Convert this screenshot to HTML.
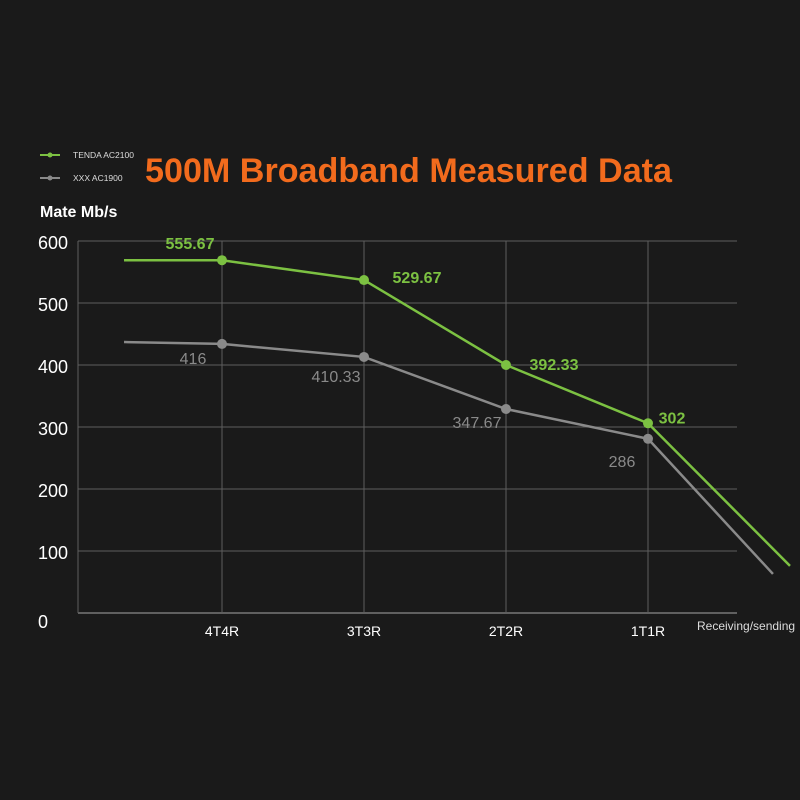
<!DOCTYPE html>
<html><head><meta charset="utf-8"><style>
html,body{margin:0;padding:0;background:#1a1a1a;}
svg{display:block;font-family:"Liberation Sans",sans-serif;}
</style></head><body>
<svg id="chart" width="800" height="800" viewBox="0 0 800 800">
<rect width="800" height="800" fill="#1a1a1a"/>
<g>
<line x1="40" y1="155" x2="60" y2="155" stroke="#7cc142" stroke-width="2"/>
<circle cx="50" cy="155" r="2.5" fill="#7cc142"/>
<text x="73" y="158" fill="#ddd" font-size="8.5">TENDA AC2100</text>
<line x1="40" y1="178" x2="60" y2="178" stroke="#8a8a8a" stroke-width="2"/>
<circle cx="50" cy="178" r="2.5" fill="#8a8a8a"/>
<text x="73" y="181" fill="#ddd" font-size="8.5">XXX AC1900</text>
</g>
<text x="145" y="182" fill="#f26b1d" font-size="34" font-weight="bold" textLength="527" lengthAdjust="spacingAndGlyphs">500M Broadband Measured Data</text>
<text x="40" y="217" fill="#fff" font-size="16" font-weight="bold">Mate Mb/s</text>
<text x="697" y="630" fill="#ddd" font-size="12">Receiving/sending</text>
<g id="grid"></g><g id="marks"></g>
</svg>
<script>
const categories=["4T4R","3T3R","2T2R","1T1R"];
const yTicks=[0,100,200,300,400,500,600];
const tendaValues=[569,537,400,306];
const xxxValues=[434,413,329,281];
const tendaLabels=["555.67","529.67","392.33","302"];
const xxxLabels=["416","410.33","347.67","286"];
const tendaStart=569, tendaEnd=76;
const xxxStart=437, xxxEnd=63;
const NS="http://www.w3.org/2000/svg";
function x(i){return 222+i*142;}
function y(v){return 613-v*0.62;}
function mk(tag,attrs,parent,text){const e=document.createElementNS(NS,tag);for(const k in attrs)e.setAttribute(k,attrs[k]);if(text!==undefined)e.textContent=text;parent.appendChild(e);return e;}
const grid=document.getElementById('grid'),marks=document.getElementById('marks');
yTicks.forEach(t=>{
 if(t>0){const l=mk('line',{x1:78,x2:737,y1:y(t),y2:y(t),stroke:'#5e5e5e','stroke-width':1},grid);
 
 }
 const tx=mk('text',{x:38,y:y(t)+(t===0?15:8),fill:'#fff','font-size':18},grid,String(t));
 
 
});
mk('line',{x1:78,x2:737,y1:613,y2:613,stroke:'#777','stroke-width':1.5},grid);
mk('line',{x1:78,x2:78,y1:241,y2:613,stroke:'#5e5e5e','stroke-width':1},grid);
categories.forEach((c,i)=>{
 const l=mk('line',{x1:x(i),x2:x(i),y1:241,y2:613,stroke:'#5e5e5e','stroke-width':1},grid);
 
 
 const t=mk('text',{x:x(i),y:636,fill:'#fff','font-size':14,'text-anchor':'middle'},grid,c);
 
 
});
function series(vals,start,endV,endI,color,name,labels,lblOff){
 const pts=[[x(-0.69),y(start)]].concat(vals.map((v,i)=>[x(i),y(v)])).concat([[x(endI),y(endV)]]);
 const p=mk('polyline',{points:pts.map(p=>p.join(',')).join(' '),fill:'none',stroke:color,'stroke-width':2.5},marks);
 
 
 vals.forEach((v,i)=>{
  const c=mk('circle',{cx:x(i),cy:y(v),r:5,fill:color},marks);
  
  
  const o=lblOff[i];
  const t=mk('text',{x:x(i)+o[0],y:y(v)+o[1],fill:color,'font-size':16,'font-weight':color==='#7cc142'?'bold':'normal','text-anchor':'middle'},marks,labels[i]);
  
  
 });
}
series(xxxValues,xxxStart,xxxEnd,3.88,'#8a8a8a','xxx',xxxLabels,[[-29,20],[-28,25],[-29,19],[-26,28]]);
series(tendaValues,tendaStart,tendaEnd,4,'#7cc142','tenda',tendaLabels,[[-32,-11],[53,3],[48,5],[24,0]]);
</script>
</body></html>
